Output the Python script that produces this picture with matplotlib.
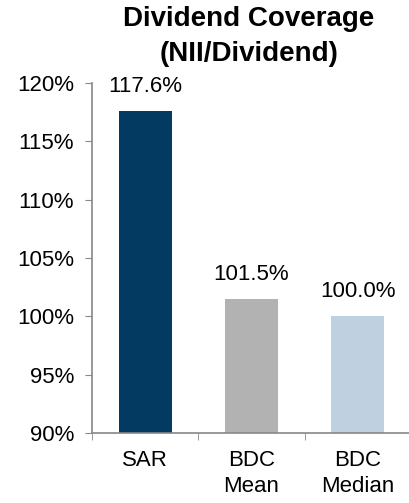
import matplotlib.pyplot as plt
import numpy as np

plt.rcParams['font.family'] = ['Liberation Sans', 'DejaVu Sans']

categories = ["SAR", "BDC\nMean", "BDC\nMedian"]
coverage = [117.6, 101.5, 100.0]
colors = ["#023a62", "#b2b2b2", "#bfd1e0"]

fig = plt.figure(figsize=(4.09, 5.03), dpi=100)
ax = fig.add_axes([0.225, 0.139, 0.78, 0.696])

x = np.arange(len(categories))
ax.bar(x, [v - 90 for v in coverage], bottom=90, width=0.5, color=colors)
for xi, v in zip(x, coverage):
    ax.text(xi, v + 1.2, f"{v:.1f}%", ha="center", va="bottom", fontsize=16)

ax.set_ylim(90, 120)
ax.set_xlim(-0.5, 2.5)
ax.set_yticks(np.arange(90, 121, 5))
ax.set_yticklabels([f"{t}%" for t in range(90, 121, 5)], fontsize=16)
ax.set_xticks(x)
ax.set_xticklabels(categories, fontsize=16, linespacing=1.3)
ax.tick_params(axis="x", length=0, pad=12)
ax.set_xticks([-0.5, 0.5, 1.5, 2.5], minor=True)
ax.tick_params(axis="x", which="minor", length=5, color="#888888", direction="out")
ax.tick_params(axis="y", length=5, color="#888888", pad=8)

for s in ["top", "right"]:
    ax.spines[s].set_visible(False)
for s in ["left", "bottom"]:
    ax.spines[s].set_color("#888888")
    ax.spines[s].set_linewidth(1.2)

fig.text(0.609, 0.988, "Dividend Coverage\n(NII/Dividend)", ha="center", va="top",
         fontsize=20, fontweight="bold", linespacing=1.45)

plt.savefig("out.png", dpi=100)
